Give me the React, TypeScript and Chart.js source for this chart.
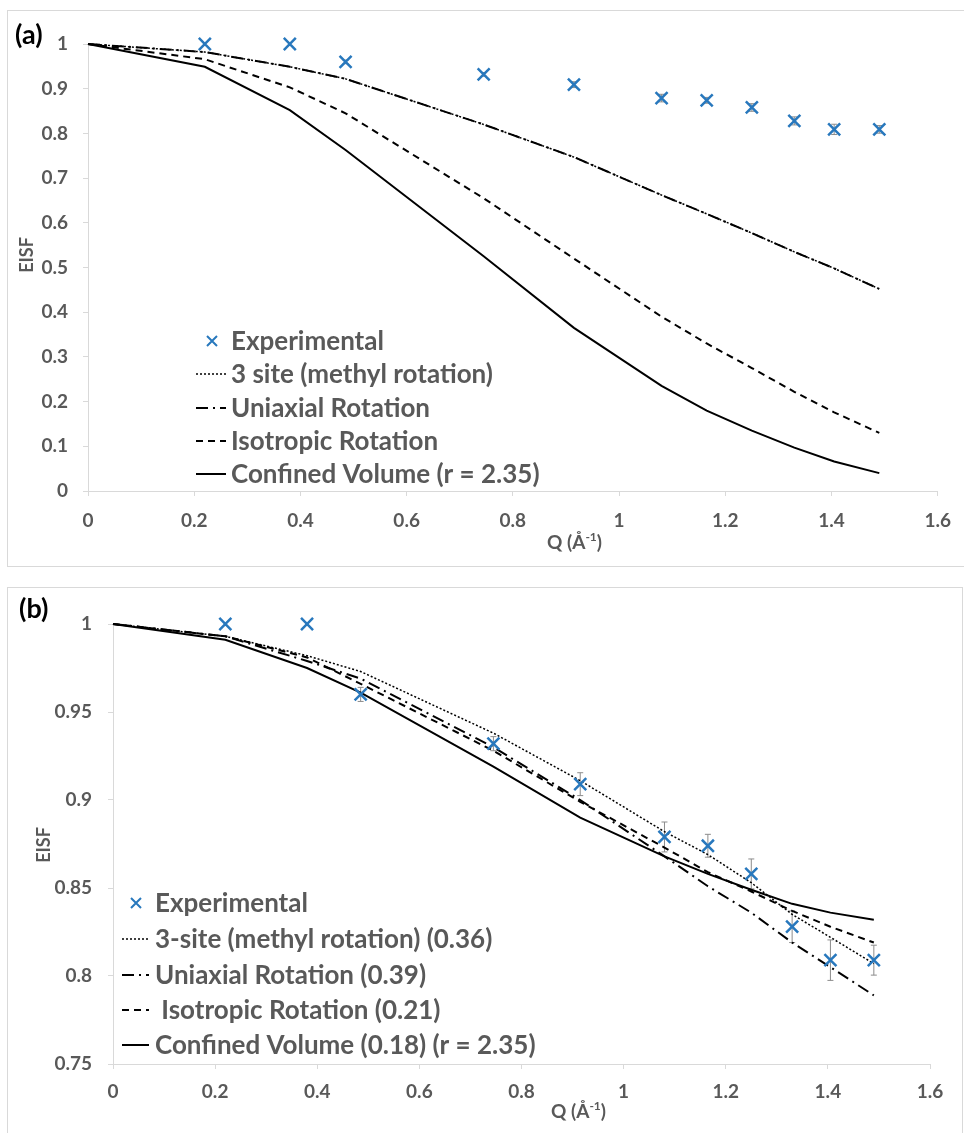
import React, { useEffect, useRef } from 'react';
import { Chart, registerables } from 'chart.js';

Chart.register(...registerables);

// ---------- data ----------
const qModel = [0, 0.22, 0.38, 0.485, 0.745, 0.915, 1.08, 1.165, 1.25, 1.33, 1.405, 1.49];
const qExp = [0.22, 0.38, 0.485, 0.745, 0.915, 1.08, 1.165, 1.25, 1.33, 1.405, 1.49];
const expEISF = [1.0, 1.0, 0.96, 0.932, 0.909, 0.879, 0.874, 0.858, 0.828, 0.809, 0.809];
const expErr = [0, 0, 0.004, 0.004, 0.0065, 0.0085, 0.0065, 0.0085, 0.009, 0.0115, 0.0085];

// panel (a)
const threeSiteA = [1, 0.982, 0.949, 0.922, 0.82, 0.747, 0.662, 0.62, 0.577, 0.535, 0.498, 0.452];
const uniaxialA = [1, 0.982, 0.949, 0.922, 0.82, 0.747, 0.662, 0.62, 0.577, 0.535, 0.498, 0.452];
const isotropicA = [1, 0.966, 0.903, 0.845, 0.655, 0.52, 0.39, 0.33, 0.275, 0.222, 0.176, 0.13];
const confinedA = [1, 0.949, 0.852, 0.763, 0.525, 0.365, 0.235, 0.18, 0.135, 0.097, 0.066, 0.04];

// panel (b)
const threeSiteB = [1, 0.993, 0.982, 0.973, 0.938, 0.911, 0.882, 0.869, 0.853, 0.835, 0.822, 0.807];
const uniaxialB = [1, 0.993, 0.979, 0.969, 0.93, 0.9, 0.868, 0.851, 0.836, 0.819, 0.805, 0.789];
const isotropicB = [1, 0.993, 0.981, 0.966, 0.928, 0.899, 0.873, 0.859, 0.848, 0.837, 0.828, 0.819];
const confinedB = [1, 0.991, 0.975, 0.961, 0.919, 0.89, 0.868, 0.858, 0.849, 0.841, 0.836, 0.832];

// ticks
const xTicks = [0, 0.2, 0.4, 0.6, 0.8, 1, 1.2, 1.4, 1.6];
const yTicksA = [0, 0.1, 0.2, 0.3, 0.4, 0.5, 0.6, 0.7, 0.8, 0.9, 1];
const yTicksB = [0.75, 0.8, 0.85, 0.9, 0.95, 1];

// legend labels
const legendA = ['Experimental', '3 site (methyl rotation)', 'Uniaxial Rotation', 'Isotropic Rotation', 'Confined Volume (r = 2.35)'];
const legendB = ['Experimental', '3-site (methyl rotation) (0.36)', 'Uniaxial Rotation (0.39)', ' Isotropic Rotation (0.21)', 'Confined Volume (0.18) (r = 2.35)'];

// ---------- styles ----------
const BLUE = '#2878BD';
const GREY_TEXT = '#595959';
const AXIS = '#d9d9d9';
const FONT = 'Lato, "Open Sans", sans-serif';
const LINE_STYLES = [
  { dash: [2, 2], width: 1.5 },          // 3 site
  { dash: [12, 5, 2, 5], width: 2 },     // uniaxial
  { dash: [7, 5], width: 2 },            // isotropic
  { dash: [] as number[], width: 2 },    // confined
];

type Panel = {
  key: string;
  series: number[][];
  labels: string[];
  yTicks: number[];
  yMin: number;
  yMax: number;
  width: number;
  height: number;
  padTop: number;
  padRight: number;
  yAxisW: number;
  xAxisH: number;
  yTickPad: number;
  xTickPad: number;
  panelLabel: string;
  panelLabelPos: [number, number];
  yTitlePos: [number, number];
  xTitlePos: [number, number];
  legend: { rows: number[]; markerX: number; lineX1: number; lineX2: number; textX: number };
};

const PANEL_A: Panel = {
  key: 'a',
  series: [threeSiteA, uniaxialA, isotropicA, confinedA],
  labels: legendA,
  yTicks: yTicksA,
  yMin: 0,
  yMax: 1,
  width: 957,
  height: 556,
  padTop: 34,
  padRight: 17,
  yAxisW: 81,
  xAxisH: 75,
  yTickPad: 15,
  xTickPad: 13,
  panelLabel: '(a)',
  panelLabelPos: [8, 25],
  yTitlePos: [20, 245],
  xTitlePos: [540, 533],
  legend: { rows: [331, 364, 398, 431, 464], markerX: 205, lineX1: 189, lineX2: 219, textX: 224 },
};

const PANEL_B: Panel = {
  key: 'b',
  series: [threeSiteB, uniaxialB, isotropicB, confinedB],
  labels: legendB,
  yTicks: yTicksB,
  yMin: 0.75,
  yMax: 1,
  width: 955,
  height: 546,
  padTop: 37,
  padRight: 32,
  yAxisW: 106,
  xAxisH: 69,
  yTickPad: 16,
  xTickPad: 11,
  panelLabel: '(b)',
  panelLabelPos: [12, 22],
  yTitlePos: [37, 258],
  xTitlePos: [544, 525],
  legend: { rows: [316, 352, 388, 423, 458], markerX: 129, lineX1: 115, lineX2: 142, textX: 148 },
};

function drawCross(ctx: CanvasRenderingContext2D, x: number, y: number, h: number) {
  ctx.beginPath();
  ctx.moveTo(x - h, y - h);
  ctx.lineTo(x + h, y + h);
  ctx.moveTo(x - h, y + h);
  ctx.lineTo(x + h, y - h);
  ctx.stroke();
}

function makeDeco(p: Panel) {
  return {
    id: 'deco_' + p.key,
    beforeDatasetsDraw(chart: any) {
      const ctx: CanvasRenderingContext2D = chart.ctx;
      const xs = chart.scales.x;
      const ys = chart.scales.y;
      ctx.save();
      ctx.strokeStyle = '#8c8c8c';
      ctx.lineWidth = 1;
      qExp.forEach((q, i) => {
        const e = expErr[i];
        if (!e) return;
        const x = xs.getPixelForValue(q);
        const y1 = ys.getPixelForValue(expEISF[i] + e);
        const y2 = ys.getPixelForValue(expEISF[i] - e);
        ctx.beginPath();
        ctx.moveTo(x, y1);
        ctx.lineTo(x, y2);
        ctx.moveTo(x - 3, y1);
        ctx.lineTo(x + 3, y1);
        ctx.moveTo(x - 3, y2);
        ctx.lineTo(x + 3, y2);
        ctx.stroke();
      });
      ctx.restore();
    },
    afterDraw(chart: any) {
      const ctx: CanvasRenderingContext2D = chart.ctx;
      ctx.save();
      // panel label
      ctx.fillStyle = '#000';
      ctx.font = `bold 27px ${FONT}`;
      ctx.textAlign = 'left';
      ctx.textBaseline = 'middle';
      ctx.fillText(p.panelLabel, p.panelLabelPos[0], p.panelLabelPos[1]);

      // y title
      ctx.fillStyle = GREY_TEXT;
      ctx.font = `bold 18px ${FONT}`;
      ctx.save();
      ctx.translate(p.yTitlePos[0], p.yTitlePos[1]);
      ctx.rotate(-Math.PI / 2);
      ctx.textAlign = 'center';
      ctx.fillText('EISF', 0, 0);
      ctx.restore();

      // x title with superscript
      ctx.textAlign = 'left';
      let tx = p.xTitlePos[0];
      const ty = p.xTitlePos[1];
      ctx.font = `bold 19px ${FONT}`;
      ctx.fillText('Q (Å', tx, ty);
      tx += ctx.measureText('Q (Å').width;
      ctx.font = `bold 12px ${FONT}`;
      ctx.fillText('-1', tx, ty - 6);
      tx += ctx.measureText('-1').width;
      ctx.font = `bold 19px ${FONT}`;
      ctx.fillText(')', tx, ty);

      // legend
      const L = p.legend;
      ctx.font = `bold 26px ${FONT}`;
      p.labels.forEach((label, i) => {
        const y = L.rows[i];
        if (i === 0) {
          ctx.strokeStyle = BLUE;
          ctx.lineWidth = 2;
          drawCross(ctx, L.markerX, y, 5);
        } else {
          const st = LINE_STYLES[i - 1];
          ctx.strokeStyle = '#000';
          ctx.lineWidth = st.width;
          ctx.setLineDash(st.dash);
          ctx.beginPath();
          ctx.moveTo(L.lineX1, y);
          ctx.lineTo(L.lineX2, y);
          ctx.stroke();
          ctx.setLineDash([]);
        }
        ctx.fillStyle = GREY_TEXT;
        ctx.fillText(label, L.textX, y + 1);
      });
      ctx.restore();
    },
  };
}

function buildConfig(p: Panel): any {
  const datasets: any[] = [
    {
      label: p.labels[0],
      data: qExp.map((q, i) => ({ x: q, y: expEISF[i] })),
      showLine: false,
      pointStyle: 'crossRot',
      pointRadius: 8.5,
      pointBorderWidth: 2.5,
      borderColor: BLUE,
      backgroundColor: BLUE,
      clip: false,
    },
  ];
  p.series.forEach((s, k) => {
    const st = LINE_STYLES[k];
    datasets.push({
      label: p.labels[k + 1],
      data: qModel.map((q, i) => ({ x: q, y: s[i] })),
      showLine: true,
      pointRadius: 0,
      borderColor: '#000',
      backgroundColor: '#000',
      borderWidth: st.width,
      borderDash: st.dash,
      tension: 0,
      fill: false,
      clip: false,
    });
  });

  const tickFont = { family: FONT, weight: 'bold' as const, size: 19 };

  return {
    type: 'scatter',
    data: { datasets },
    options: {
      animation: false,
      responsive: false,
      devicePixelRatio: 1,
      layout: { padding: { top: p.padTop, right: p.padRight, left: 0, bottom: 0 } },
      plugins: {
        legend: { display: false },
        tooltip: { enabled: false },
        title: { display: false },
      },
      scales: {
        x: {
          type: 'linear',
          min: 0,
          max: 1.6,
          afterBuildTicks: (s: any) => {
            s.ticks = xTicks.map((v) => ({ value: v }));
          },
          afterFit: (s: any) => {
            s.height = p.xAxisH;
          },
          ticks: {
            callback: (v: any) => String(Math.round(v * 100) / 100),
            font: tickFont,
            color: GREY_TEXT,
            padding: p.xTickPad,
            maxRotation: 0,
            autoSkip: false,
          },
          grid: { drawOnChartArea: false, drawTicks: true, tickLength: 5, color: AXIS },
          border: { color: AXIS, width: 1 },
          title: { display: false },
        },
        y: {
          type: 'linear',
          min: p.yMin,
          max: p.yMax,
          afterBuildTicks: (s: any) => {
            s.ticks = p.yTicks.map((v) => ({ value: v }));
          },
          afterFit: (s: any) => {
            s.width = p.yAxisW;
          },
          ticks: {
            callback: (v: any) => String(Math.round(v * 100) / 100),
            font: tickFont,
            color: GREY_TEXT,
            padding: p.yTickPad,
            autoSkip: false,
          },
          grid: { drawOnChartArea: false, drawTicks: true, tickLength: 5, color: AXIS },
          border: { color: AXIS, width: 1 },
          title: { display: false },
        },
      },
    },
    plugins: [makeDeco(p)],
  };
}

export default function App() {
  const refA = useRef<HTMLCanvasElement>(null);
  const refB = useRef<HTMLCanvasElement>(null);

  useEffect(() => {
    const a = new Chart(refA.current as HTMLCanvasElement, buildConfig(PANEL_A));
    const b = new Chart(refB.current as HTMLCanvasElement, buildConfig(PANEL_B));
    return () => {
      a.destroy();
      b.destroy();
    };
  }, []);

  return (
    <div
      style={{
        position: 'absolute',
        left: 0,
        top: 0,
        width: 964,
        height: 1133,
        overflow: 'hidden',
        background: '#fff',
      }}
    >
      <div
        style={{
          position: 'absolute',
          left: 7,
          top: 10,
          width: 980,
          height: 557,
          border: '1px solid #d9d9d9',
          boxSizing: 'border-box',
        }}
      />
      <canvas
        ref={refA}
        width={PANEL_A.width}
        height={PANEL_A.height}
        style={{ position: 'absolute', left: 7, top: 10, width: PANEL_A.width, height: PANEL_A.height }}
      />
      <div
        style={{
          position: 'absolute',
          left: 7,
          top: 587,
          width: 956,
          height: 600,
          border: '1px solid #d9d9d9',
          boxSizing: 'border-box',
        }}
      />
      <canvas
        ref={refB}
        width={PANEL_B.width}
        height={PANEL_B.height}
        style={{ position: 'absolute', left: 7, top: 587, width: PANEL_B.width, height: PANEL_B.height }}
      />
    </div>
  );
}
